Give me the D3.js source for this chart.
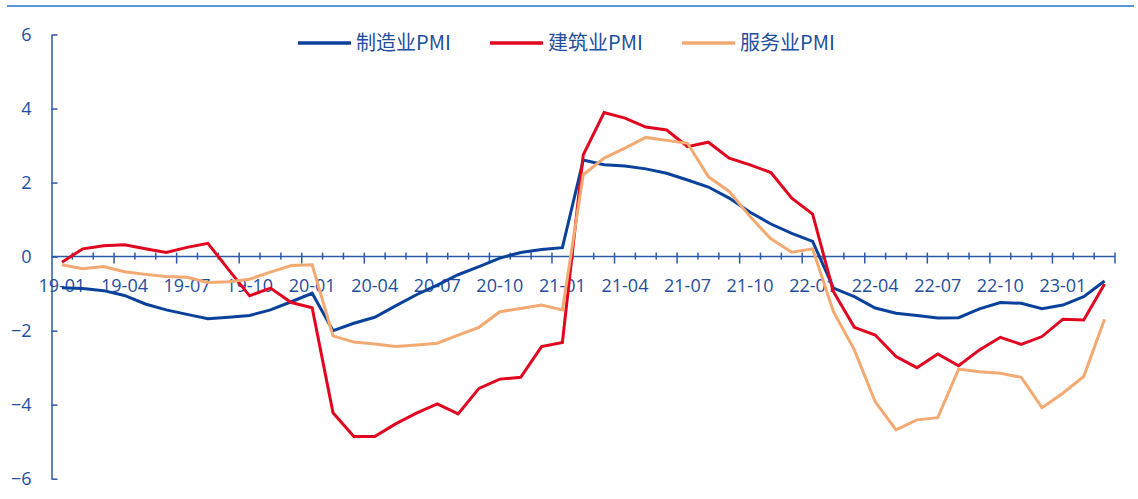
<!DOCTYPE html>
<html>
<head>
<meta charset="utf-8">
<script src="https://cdn.jsdelivr.net/npm/d3@7"></script>
<style>
  html, body { margin: 0; padding: 0; background: #fff; }
  #chart { width: 1138px; height: 499px; }
  .axis-label { font-family: "Open Sans", "Noto Sans", sans-serif; font-size: 18px; fill: #1f4e9c; }
  .legend-label { font-family: "Noto Sans CJK SC", sans-serif; font-size: 20px; fill: #1f4e9c; }
</style>
</head>
<body>
<div id="chart"></div>
<script>
// PMI deviation chart: manufacturing / construction / services
const MONTHS = [
  "19-01", "19-02", "19-03", "19-04", "19-05", "19-06", "19-07", "19-08", "19-09", "19-10", "19-11", "19-12",
  "20-01", "20-02", "20-03", "20-04", "20-05", "20-06", "20-07", "20-08", "20-09", "20-10", "20-11", "20-12",
  "21-01", "21-02", "21-03", "21-04", "21-05", "21-06", "21-07", "21-08", "21-09", "21-10", "21-11", "21-12",
  "22-01", "22-02", "22-03", "22-04", "22-05", "22-06", "22-07", "22-08", "22-09", "22-10", "22-11", "22-12",
  "23-01", "23-02", "23-03",
];
const X_LABELS = ["19-01", "19-04", "19-07", "19-10", "20-01", "20-04", "20-07", "20-10",
  "21-01", "21-04", "21-07", "21-10", "22-01", "22-04", "22-07", "22-10", "23-01"];
const Y_TICKS = [-6, -4, -2, 0, 2, 4, 6];

const manufacturing = [
  -0.84, -0.86, -0.92, -1.05, -1.28, -1.44, -1.56, -1.68, -1.64, -1.59, -1.44, -1.22,
  -0.99, -2.0, -1.8, -1.64, -1.33, -1.03, -0.77, -0.49, -0.27, -0.04, 0.11, 0.19,
  0.24, 2.61, 2.48, 2.45, 2.37, 2.25, 2.07, 1.88, 1.58, 1.2, 0.88,
  0.63, 0.41, -0.85, -1.08, -1.39, -1.53, -1.59, -1.66, -1.65, -1.41, -1.24, -1.26,
  -1.41, -1.31, -1.08, -0.66,
];
const construction = [
  -0.15, 0.21, 0.29, 0.32, 0.21, 0.11, 0.25, 0.36, -0.36, -1.06, -0.85, -1.24,
  -1.38, -4.22, -4.86, -4.86, -4.52, -4.23, -3.98, -4.25, -3.56, -3.31, -3.26, -2.43,
  -2.32, 2.75, 3.89, 3.74, 3.5, 3.42, 2.97, 3.09, 2.66, 2.48, 2.27,
  1.58, 1.15, -0.95, -1.91, -2.12, -2.7, -3.0, -2.63, -2.95, -2.52, -2.18, -2.37,
  -2.16, -1.69, -1.71, -0.74,
];
const services = [
  -0.22, -0.33, -0.27, -0.41, -0.48, -0.54, -0.56, -0.7, -0.68, -0.61, -0.42, -0.24,
  -0.22, -2.14, -2.31, -2.36, -2.43, -2.39, -2.34, -2.12, -1.91, -1.49, -1.4, -1.31,
  -1.44, 2.21, 2.66, 2.93, 3.22, 3.14, 3.06, 2.16, 1.76, 1.08, 0.48,
  0.12, 0.21, -1.49, -2.52, -3.92, -4.68, -4.41, -4.35, -3.04, -3.11, -3.15, -3.26,
  -4.08, -3.69, -3.24, -1.69,
];

const SERIES = [
  { name: "制造业PMI", values: manufacturing, color: "#0a429b" },
  { name: "建筑业PMI", values: construction, color: "#e0061f" },
  { name: "服务业PMI", values: services, color: "#f2aa72" },
];

(function () {
  const width = 1138;
  const height = 499;
  const axisColor = "#2b5aa8";

  const svg = d3.select("#chart").append("svg").attr("width", width).attr("height", height);

  // thin header rule
  svg.append("line")
    .attr("x1", 7).attr("x2", 1134).attr("y1", 6).attr("y2", 6)
    .attr("stroke", "#5796d0").attr("stroke-width", 2);

  const x = d3.scaleBand().domain(MONTHS).range([51.5, 1115]).paddingInner(0).paddingOuter(0);
  const y = d3.scaleLinear().domain([-6, 6]).range([478.7, 34.5]);
  const cx = (m) => x(m) + x.bandwidth() / 2;

  // y axis, ticks pointing inward
  const yAxis = svg.append("g")
    .attr("transform", "translate(51.5,0)")
    .call(d3.axisLeft(y).tickValues(Y_TICKS).tickSizeInner(-6).tickSizeOuter(0).tickPadding(20));
  yAxis.select(".domain").attr("stroke", axisColor).attr("stroke-width", 1.5);
  yAxis.selectAll(".tick line").attr("stroke", axisColor).attr("stroke-width", 1.5);
  yAxis.selectAll(".tick text").attr("class", "axis-label").attr("fill", null);

  // x axis at zero, ticks between months
  const y0 = y(0);
  const xg = svg.append("g");
  xg.append("line")
    .attr("x1", x.range()[0]).attr("x2", x.range()[1])
    .attr("y1", y0).attr("y2", y0)
    .attr("stroke", axisColor).attr("stroke-width", 1.5);

  const bounds = MONTHS.map((m, i) => ({ pos: x(m), major: i % 3 === 0 }))
    .concat([{ pos: x.range()[1], major: true }])
    .filter((d, i) => i > 0);

  xg.selectAll("line.tick")
    .data(bounds)
    .join("line")
    .attr("class", "tick")
    .attr("x1", (d) => d.pos).attr("x2", (d) => d.pos)
    .attr("y1", y0 - 4)
    .attr("y2", (d) => (d.major ? y0 + 7 : y0 + 3))
    .attr("stroke", axisColor).attr("stroke-width", 1.5);

  xg.selectAll("text")
    .data(X_LABELS)
    .join("text")
    .attr("class", "axis-label")
    .attr("x", (d) => cx(d))
    .attr("y", y0 + 35)
    .attr("text-anchor", "middle")
    .text((d) => d);

  // lines
  const line = d3.line()
    .x((d, i) => cx(MONTHS[i]))
    .y((d) => y(d));

  svg.selectAll("path.series")
    .data(SERIES)
    .join("path")
    .attr("class", "series")
    .attr("fill", "none")
    .attr("stroke", (d) => d.color)
    .attr("stroke-width", 3)
    .attr("stroke-linejoin", "miter")
    .attr("d", (d) => line(d.values));

  // legend
  const legendX = [298, 490, 682];
  const legend = svg.append("g")
    .selectAll("g")
    .data(SERIES)
    .join("g")
    .attr("transform", (d, i) => `translate(${legendX[i]},43)`);

  legend.append("line")
    .attr("x1", 0).attr("x2", 53)
    .attr("stroke", (d) => d.color)
    .attr("stroke-width", 3.5);

  legend.append("text")
    .attr("class", "legend-label")
    .attr("x", 58)
    .attr("y", 7)
    .text((d) => d.name);
})();
</script>
</body>
</html>
